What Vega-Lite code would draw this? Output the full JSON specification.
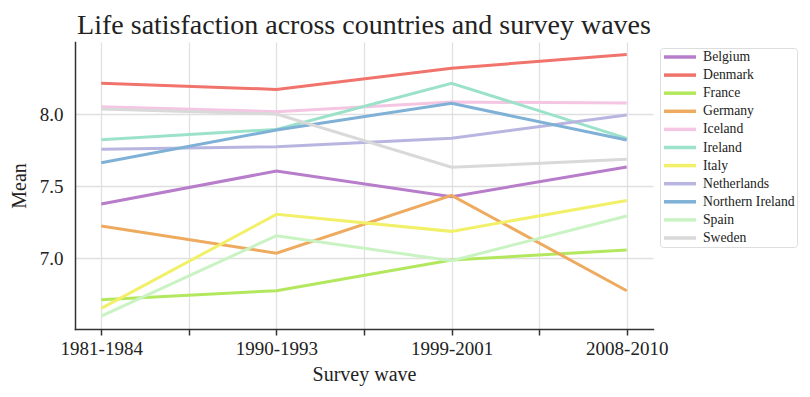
{
  "$schema": "https://vega.github.io/schema/vega-lite/v6.json",
  "autosize": {"type": "none"},
  "width": 578,
  "height": 287,
  "padding": {"left": 75, "top": 42, "right": 157, "bottom": 68},
  "background": "white",
  "title": {
    "text": "Life satisfaction across countries and survey waves",
    "font": "Liberation Serif",
    "fontSize": 28,
    "fontWeight": "normal",
    "color": "#222222",
    "anchor": "middle",
    "offset": 2
  },
  "data": {
    "values": [
      {"country": "Belgium", "wave": "1981-1984", "w": 0, "mean": 7.375},
      {"country": "Belgium", "wave": "1990-1993", "w": 1, "mean": 7.604},
      {"country": "Belgium", "wave": "1999-2001", "w": 2, "mean": 7.426},
      {"country": "Belgium", "wave": "2008-2010", "w": 3, "mean": 7.632},
      {"country": "Denmark", "wave": "1981-1984", "w": 0, "mean": 8.213},
      {"country": "Denmark", "wave": "1990-1993", "w": 1, "mean": 8.171},
      {"country": "Denmark", "wave": "1999-2001", "w": 2, "mean": 8.317},
      {"country": "Denmark", "wave": "2008-2010", "w": 3, "mean": 8.414},
      {"country": "France", "wave": "1981-1984", "w": 0, "mean": 6.71},
      {"country": "France", "wave": "1990-1993", "w": 1, "mean": 6.773},
      {"country": "France", "wave": "1999-2001", "w": 2, "mean": 6.986},
      {"country": "France", "wave": "2008-2010", "w": 3, "mean": 7.056},
      {"country": "Germany", "wave": "1981-1984", "w": 0, "mean": 7.222},
      {"country": "Germany", "wave": "1990-1993", "w": 1, "mean": 7.033},
      {"country": "Germany", "wave": "1999-2001", "w": 2, "mean": 7.435},
      {"country": "Germany", "wave": "2008-2010", "w": 3, "mean": 6.773},
      {"country": "Iceland", "wave": "1981-1984", "w": 0, "mean": 8.051},
      {"country": "Iceland", "wave": "1990-1993", "w": 1, "mean": 8.016},
      {"country": "Iceland", "wave": "1999-2001", "w": 2, "mean": 8.083},
      {"country": "Iceland", "wave": "2008-2010", "w": 3, "mean": 8.076},
      {"country": "Ireland", "wave": "1981-1984", "w": 0, "mean": 7.822},
      {"country": "Ireland", "wave": "1990-1993", "w": 1, "mean": 7.893},
      {"country": "Ireland", "wave": "1999-2001", "w": 2, "mean": 8.213},
      {"country": "Ireland", "wave": "2008-2010", "w": 3, "mean": 7.831},
      {"country": "Italy", "wave": "1981-1984", "w": 0, "mean": 6.65},
      {"country": "Italy", "wave": "1990-1993", "w": 1, "mean": 7.303},
      {"country": "Italy", "wave": "1999-2001", "w": 2, "mean": 7.185},
      {"country": "Italy", "wave": "2008-2010", "w": 3, "mean": 7.4},
      {"country": "Netherlands", "wave": "1981-1984", "w": 0, "mean": 7.755},
      {"country": "Netherlands", "wave": "1990-1993", "w": 1, "mean": 7.773},
      {"country": "Netherlands", "wave": "1999-2001", "w": 2, "mean": 7.831},
      {"country": "Netherlands", "wave": "2008-2010", "w": 3, "mean": 7.993},
      {"country": "Northern Ireland", "wave": "1981-1984", "w": 0, "mean": 7.662},
      {"country": "Northern Ireland", "wave": "1990-1993", "w": 1, "mean": 7.889},
      {"country": "Northern Ireland", "wave": "1999-2001", "w": 2, "mean": 8.074},
      {"country": "Northern Ireland", "wave": "2008-2010", "w": 3, "mean": 7.819},
      {"country": "Spain", "wave": "1981-1984", "w": 0, "mean": 6.597},
      {"country": "Spain", "wave": "1990-1993", "w": 1, "mean": 7.155},
      {"country": "Spain", "wave": "1999-2001", "w": 2, "mean": 6.981},
      {"country": "Spain", "wave": "2008-2010", "w": 3, "mean": 7.292},
      {"country": "Sweden", "wave": "1981-1984", "w": 0, "mean": 8.035},
      {"country": "Sweden", "wave": "1990-1993", "w": 1, "mean": 8.0},
      {"country": "Sweden", "wave": "1999-2001", "w": 2, "mean": 7.63},
      {"country": "Sweden", "wave": "2008-2010", "w": 3, "mean": 7.685}
    ]
  },
  "mark": {"type": "line", "strokeWidth": 3, "strokeCap": "butt"},
  "encoding": {
    "x": {
      "field": "w",
      "type": "quantitative",
      "scale": {"domain": [-0.15, 3.15], "nice": false, "zero": false},
      "axis": {
        "title": "Survey wave",
        "values": [0, 0.5, 1, 1.5, 2, 2.5, 3],
        "labelExpr": "datum.value == 0 ? '1981-1984' : datum.value == 1 ? '1990-1993' : datum.value == 2 ? '1999-2001' : datum.value == 3 ? '2008-2010' : ''",
        "labelFont": "Liberation Serif",
        "labelFontSize": 19,
        "labelColor": "#222222",
        "labelPadding": 4,
        "labelFlush": false,
        "labelOverlap": false,
        "tickSize": 6,
        "tickWidth": 1.5,
        "tickColor": "#333333",
        "domainColor": "#333333",
        "domainWidth": 1.5,
        "grid": true,
        "gridColor": "#e0e0e0",
        "gridWidth": 1.3,
        "titleFont": "Liberation Serif",
        "titleFontSize": 20,
        "titleFontWeight": "normal",
        "titleColor": "#222222",
        "titlePadding": 6
      }
    },
    "y": {
      "field": "mean",
      "type": "quantitative",
      "scale": {"domain": [6.507, 8.5], "nice": false, "zero": false},
      "axis": {
        "title": "Mean",
        "values": [7.0, 7.5, 8.0],
        "format": ".1f",
        "labelFont": "Liberation Serif",
        "labelFontSize": 19,
        "labelColor": "#222222",
        "labelPadding": 12,
        "ticks": false,
        "domainColor": "#333333",
        "domainWidth": 1.5,
        "grid": true,
        "gridColor": "#e0e0e0",
        "gridWidth": 1.3,
        "titleFont": "Liberation Serif",
        "titleFontSize": 20,
        "titleFontWeight": "normal",
        "titleColor": "#222222",
        "titlePadding": 10
      }
    },
    "color": {
      "field": "country",
      "type": "nominal",
      "scale": {
        "domain": ["Belgium", "Denmark", "France", "Germany", "Iceland", "Ireland", "Italy", "Netherlands", "Northern Ireland", "Spain", "Sweden"],
        "range": ["#b77dca", "#f0736c", "#b3e85e", "#eeab5f", "#f5c6e3", "#9ce2cb", "#f2f068", "#b8b6e0", "#7eb1d5", "#c9f3c3", "#d9d9d9"]
      },
      "legend": {
        "title": null,
        "orient": "none",
        "legendX": 585,
        "legendY": 6,
        "symbolType": "M-1,0H5.4",
        "symbolSize": 100,
        "symbolStrokeWidth": 3.5,
        "labelFont": "Liberation Serif",
        "labelFontSize": 13.7,
        "labelColor": "#222222",
        "labelOffset": 27,
        "rowPadding": 4.1,
        "strokeColor": "#dddddd",
        "cornerRadius": 3,
        "padding": 2,
        "fillColor": "white"
      }
    }
  },
  "config": {
    "view": {"stroke": null},
    "axis": {"domainCap": "square"},
    "legend": {"labelFont": "Liberation Serif", "labelFontSize": 13.7}
  }
}
